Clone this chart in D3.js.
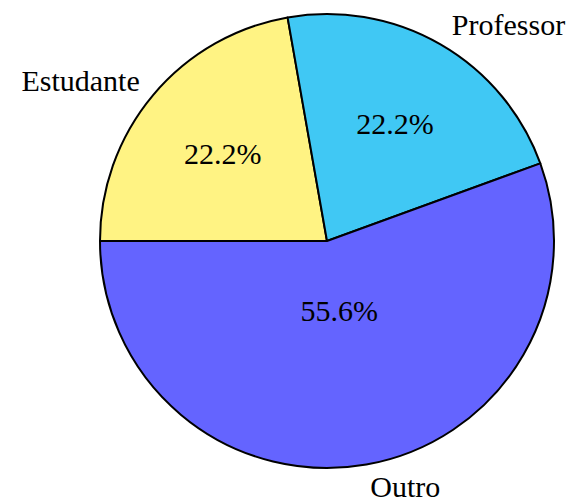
<!DOCTYPE html>
<html>
<head>
<meta charset="utf-8">
<script src="https://cdn.jsdelivr.net/npm/d3@7"></script>
<style>
  html, body { margin: 0; padding: 0; background: #fff; }
  svg { display: block; }
</style>
</head>
<body>
<svg id="chart" width="568" height="503"></svg>
<script>
// Respondents by category
const categories = ["Estudante", "Professor", "Outro"];
const counts = [2, 2, 5];
const colors = ["#FFF383", "#40C8F4", "#6464FF"];

const width = 568, height = 503;
const cx = 327, cy = 241, radius = 227;
const labelDistance = 1.1;
const pctDistance = { Estudante: 0.6, Professor: 0.6, Outro: 0.31 };
const fontFamily = "'Liberation Serif', 'DejaVu Serif', serif";
const fontSize = 30;

const data = categories.map((c, i) => ({ category: c, value: counts[i], color: colors[i] }));
const total = d3.sum(counts);

const svg = d3.select("#chart");
const g = svg.append("g").attr("transform", `translate(${cx},${cy})`);

const pie = d3.pie()
  .value(d => d.value)
  .sort(null)
  .startAngle(-Math.PI / 2)
  .endAngle(3 * Math.PI / 2);

const arc = d3.arc().innerRadius(0).outerRadius(radius);
const arcs = pie(data);

g.selectAll("path.slice")
  .data(arcs)
  .join("path")
  .attr("class", "slice")
  .attr("d", arc)
  .attr("fill", d => d.data.color)
  .attr("stroke", "#000")
  .attr("stroke-width", 2)
  .attr("stroke-linejoin", "round");

const mid = d => (d.startAngle + d.endAngle) / 2;
const polar = (a, r) => [r * Math.sin(a), -r * Math.cos(a)];
const onRight = d => Math.sin(mid(d)) >= 0;

// Category labels outside the pie
g.selectAll("text.cat")
  .data(arcs)
  .join("text")
  .attr("class", "cat")
  .attr("x", d => polar(mid(d), radius * labelDistance)[0] + (onRight(d) ? 0 : 4))
  .attr("y", d => polar(mid(d), radius * labelDistance)[1])
  .attr("text-anchor", d => onRight(d) ? "start" : "end")
  .attr("dominant-baseline", "central")
  .attr("font-family", fontFamily)
  .attr("font-size", fontSize)
  .attr("fill", "#000")
  .text(d => d.data.category);

// Percentage labels inside the slices
const fmt = v => (v / total * 100).toFixed(1) + "%";
g.selectAll("text.pct")
  .data(arcs)
  .join("text")
  .attr("class", "pct")
  .attr("x", d => polar(mid(d), radius * pctDistance[d.data.category])[0])
  .attr("y", d => polar(mid(d), radius * pctDistance[d.data.category])[1])
  .attr("text-anchor", "middle")
  .attr("dominant-baseline", "central")
  .attr("font-family", fontFamily)
  .attr("font-size", fontSize)
  .attr("fill", "#000")
  .text(d => fmt(d.data.value));
</script>
</body>
</html>
